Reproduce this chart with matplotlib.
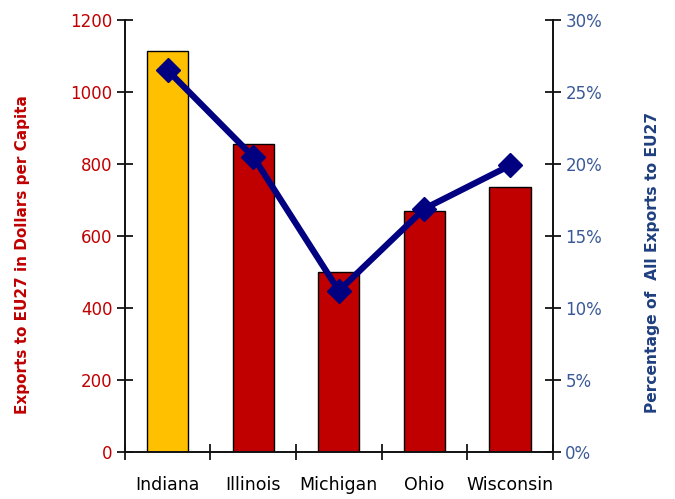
import numpy as np
import matplotlib
matplotlib.use("Agg")
import matplotlib.pyplot as plt
from matplotlib.ticker import FuncFormatter, MultipleLocator, FixedLocator

states      = ["Indiana", "Illinois", "Michigan", "Ohio", "Wisconsin"]
per_capita  = [1115, 855, 500, 670, 735]          # exports to EU27, $ per capita
pct_exports = [26.5, 20.5, 11.2, 16.9, 19.9]      # % of all exports going to EU27
bar_colors  = ["#FFC000", "#C00000", "#C00000", "#C00000", "#C00000"]

red  = "#C00000"
blue = "#3B5998"
navy = "#000080"

fig = plt.figure(figsize=(6.75, 4.99), dpi=100)
ax1 = fig.add_axes([0.185, 0.094, 0.634, 0.866])
ax2 = ax1.twinx()

x = np.arange(len(states))
ax1.bar(x, per_capita, width=0.48, color=bar_colors, edgecolor="black", linewidth=1, zorder=2)
ax2.plot(x, pct_exports, color=navy, linewidth=4.5, marker="D", markersize=12.5, zorder=3)

ax1.set_xlim(-0.5, len(states) - 0.5)
ax1.set_ylim(0, 1200)
ax2.set_ylim(0, 30)

# spines: only left, right, bottom
for ax in (ax1, ax2):
  ax.spines["top"].set_visible(False)
  for s in ("left", "right", "bottom"):
    ax.spines[s].set_linewidth(1.2)
    ax.spines[s].set_color("#111111")

ax1.yaxis.set_major_locator(MultipleLocator(200))
ax1.tick_params(axis="y", direction="inout", length=12, width=1.2, labelsize=12, labelcolor=red, pad=3)
ax2.yaxis.set_major_locator(MultipleLocator(5))
ax2.yaxis.set_major_formatter(FuncFormatter(lambda v, p: f"{v:.0f}%"))
ax2.tick_params(axis="y", direction="inout", length=12, width=1.2, labelsize=12, labelcolor=blue, pad=3)

# category labels centred, ticks at category boundaries
ax1.set_xticks(x)
ax1.set_xticklabels(states, fontsize=12.5)
ax1.tick_params(axis="x", which="major", length=0, pad=17.5)
ax1.xaxis.set_minor_locator(FixedLocator(np.arange(len(states) + 1) - 0.5))
ax1.tick_params(axis="x", which="minor", direction="inout", length=12, width=1.2)

fig.text(0.033, 0.49, "Exports to EU27 in Dollars per Capita", rotation=90,
         ha="center", va="center", color=red, fontsize=11, fontweight="bold")
fig.text(0.967, 0.475, "Percentage of  All Exports to EU27", rotation=90,
         ha="center", va="center", color="#1F3F7F", fontsize=11.2, fontweight="bold")

fig.savefig("out.png", dpi=100)
